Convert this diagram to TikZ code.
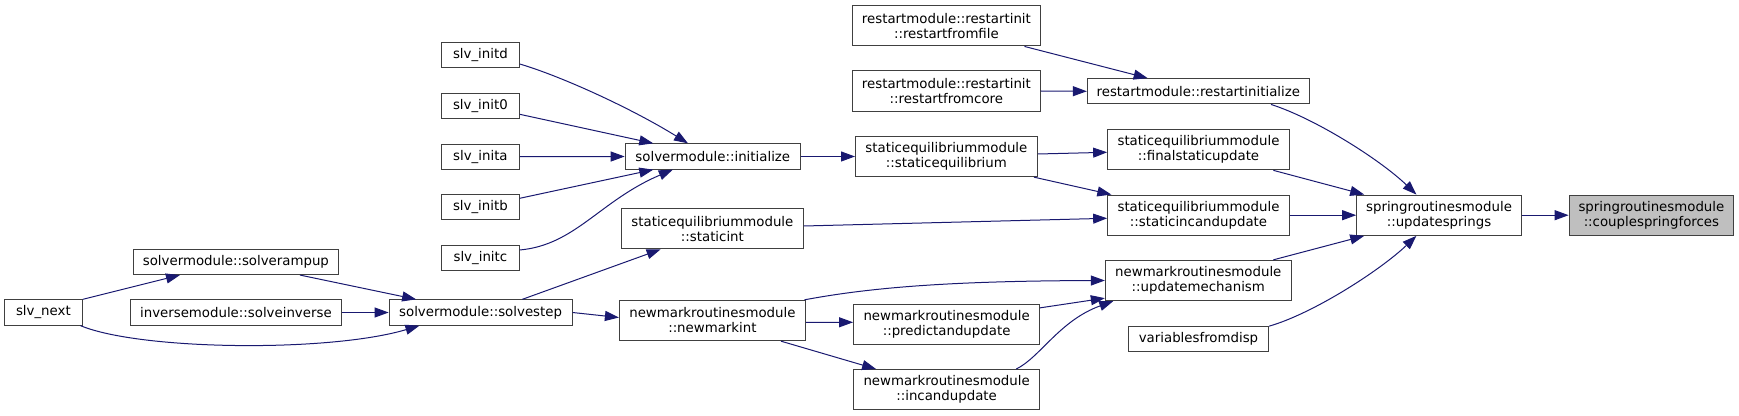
\documentclass[tikz,border=0pt]{standalone}
\usepackage{fontspec}
\setmainfont{DejaVu Sans}
\usetikzlibrary{arrows.meta,calc}
\definecolor{edgec}{HTML}{191970}
\definecolor{boxc}{HTML}{404040}
\definecolor{rootc}{HTML}{BFBFBF}
\tikzset{
  bx/.style 2 args={rectangle,draw=boxc,line width=0.75pt,fill=white,inner sep=0pt,
    minimum width=#1*0.75pt,minimum height=#2*0.75pt,align=center,
    font=\fontsize{10}{11.25}\selectfont,text=black},
  ed/.style={draw=edgec,line width=0.75pt,-{Triangle[length=10.5pt,width=7.5pt]}}
}
\begin{document}
\begin{tikzpicture}[x=0.75pt,y=-0.75pt]
\useasboundingbox (0,0) rectangle (1739,416);
% rank 0-2
\node[bx={77.7}{25.3}] (slvnext) at (43.4,312.5) {slv\_next};
\node[bx={204.8}{25.3}] (rampup) at (235.9,261.9) {solvermodule::solverampup};
\node[bx={210.8}{25.3}] (solveinv) at (235.9,312.5) {inversemodule::solveinverse};
\node[bx={77.7}{25.3}] (initd) at (480.4,55.3) {slv\_initd};
\node[bx={77.7}{25.3}] (init0) at (480.4,105.8) {slv\_init0};
\node[bx={77.7}{25.3}] (inita) at (480.4,156.7) {slv\_inita};
\node[bx={77.7}{25.3}] (initb) at (480.4,207.3) {slv\_initb};
\node[bx={77.7}{25.3}] (initc) at (480.4,258) {slv\_initc};
\node[bx={182.9}{25.3}] (solvestep) at (480.6,312.5) {solvermodule::solvestep};
% rank 3
\node[bx={175.2}{25.3}] (initialize) at (712.8,156.5) {solvermodule::initialize};
\node[bx={181.8}{40.3}] (staticint) at (712.4,228.7) {staticequilibriummodule\\::staticint};
\node[bx={186}{40.3}] (newmarkint) at (712.4,320.5) {newmarkroutinesmodule\\::newmarkint};
% rank 4
\node[bx={187.2}{40.3}] (rfile) at (946.4,25.8) {restartmodule::restartinit\\::restartfromfile};
\node[bx={187.2}{40.3}] (rcore) at (946.4,91) {restartmodule::restartinit\\::restartfromcore};
\node[bx={181.8}{40.3}] (staticeq) at (946.4,156.5) {staticequilibriummodule\\::staticequilibrium};
\node[bx={186}{40.3}] (predict) at (946.6,324.5) {newmarkroutinesmodule\\::predictandupdate};
\node[bx={186}{40.3}] (incand) at (946.6,389.7) {newmarkroutinesmodule\\::incandupdate};
% rank 5
\node[bx={221.9}{25.3}] (rinit) at (1198.3,91.3) {restartmodule::restartinitialize};
\node[bx={181.7}{40.3}] (finalstatic) at (1198.5,149.7) {staticequilibriummodule\\::finalstaticupdate};
\node[bx={181.7}{40.3}] (staticincand) at (1198.5,215.2) {staticequilibriummodule\\::staticincandupdate};
\node[bx={185.9}{40.3}] (updatemech) at (1198.3,280.5) {newmarkroutinesmodule\\::updatemechanism};
\node[bx={140.4}{25.3}] (variables) at (1198.5,339.3) {variablesfromdisp};
% rank 6-7
\node[bx={164.6}{40.3}] (updatesprings) at (1439,215.2) {springroutinesmodule\\::updatesprings};
\node[bx={164.5}{40.3},fill=rootc] (couple) at (1651.4,215.2) {springroutinesmodule\\::couplespringforces};
% edges
\draw[ed] ($(initd.east)+(0,8.7)$) .. controls +(40.7,12) and +(-58,-35.85) .. ($(initialize.north)+(-24.8,0)$);
\draw[ed] ($(init0.east)+(0,8.5)$) -- ($(initialize.north)+(-59.5,0)$);
\draw[ed] (inita.east) -- (initialize.west);
\draw[ed] ($(initb.east)+(0,-9)$) -- ($(initialize.south)+(-59.5,0)$);
\draw[ed] ($(initc.east)+(0,-8)$) .. controls +(55.7,-5) and +(-72.8,30.85) .. ($(initialize.south)+(-40,0)$);
\draw[ed] (slvnext.north east) -- ($(rampup.south)+(-55.9,0)$);
\draw[ed] ($(slvnext.south east)+(-2.3,0)$) .. controls +(60,24.85) and +(-90,26.85) .. ($(solvestep.south west)+(30.8,0)$);
\draw[ed] ($(rampup.south)+(64,0)$) -- ($(solvestep.north west)+(27.5,0)$);
\draw[ed] (solveinv.east) -- (solvestep.west);
\draw[ed] ($(solvestep.north)+(41.7,0)$) -- ($(staticint.south)+(-51.8,0)$);
\draw[ed] (solvestep.east) -- ($(newmarkint.west)+(0,-3)$);
\draw[ed] (initialize.east) -- (staticeq.west);
\draw[ed] ($(staticeq.east)+(0,-2.5)$) -- ($(finalstatic.west)+(0,2.6)$);
\draw[ed] ($(staticeq.south east)+(-3.9,0)$) -- ($(staticincand.north west)+(4.2,0)$);
\draw[ed] ($(staticint.east)+(0,-2.7)$) -- ($(staticincand.west)+(0,3.1)$);
\draw[ed] ($(newmarkint.north east)+(-1.5,0)$) .. controls +(66,-12.35) and +(-155.35,0.5) .. (updatemech.west);
\draw[ed] ($(newmarkint.east)+(0,1.8)$) -- ($(predict.west)+(0,-2.2)$);
\draw[ed] ($(newmarkint.south)+(68.5,0)$) -- ($(incand.north west)+(23,0)$);
\draw[ed] ($(predict.north east)+(0,4)$) -- ($(updatemech.south west)+(0,-3)$);
\draw[ed] ($(incand.north)+(69.6,0)$) .. controls +(23.8,-11.55) and +(-53.75,19.35) .. ($(updatemech.south west)+(8.4,0)$);
\draw[ed] ($(rfile.south east)+(-16,0)$) -- ($(rinit.north west)+(60.8,0)$);
\draw[ed] (rcore.east) -- (rinit.west);
\draw[ed] ($(rinit.south)+(72.7,0)$) .. controls +(44,14) and +(-36.4,-35) .. ($(updatesprings.north)+(-22.6,0)$);
\draw[ed] ($(finalstatic.south east)+(-16.5,0)$) -- ($(updatesprings.north west)+(8,0)$);
\draw[ed] (staticincand.east) -- (updatesprings.west);
\draw[ed] ($(updatemech.north east)+(-18.4,0)$) -- ($(updatesprings.south west)+(8,0)$);
\draw[ed] (variables.north east) .. controls +(44,-12.65) and +(-36.4,34.65) .. ($(updatesprings.south)+(-22.6,0)$);
\draw[ed] (updatesprings.east) -- (couple.west);
\end{tikzpicture}
\end{document}
